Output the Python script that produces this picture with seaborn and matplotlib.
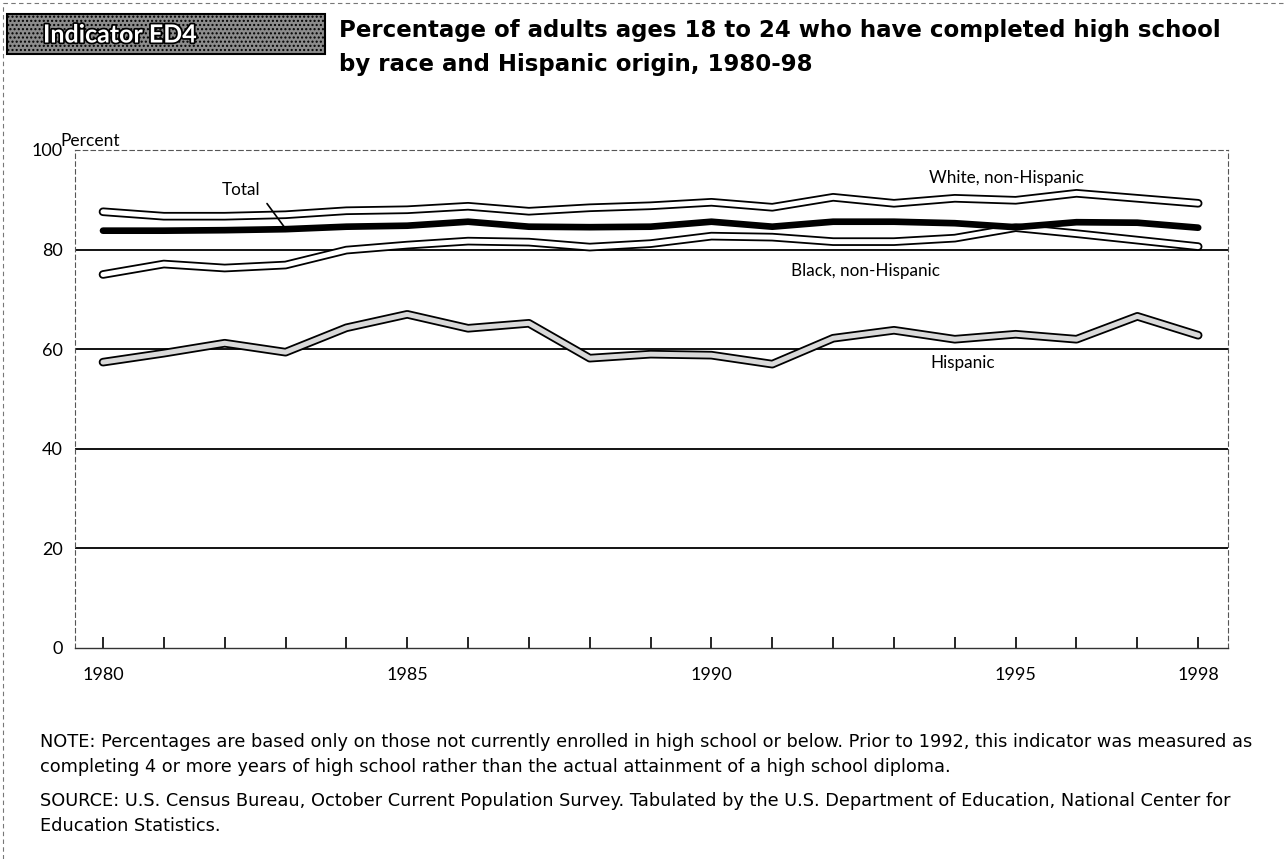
import matplotlib
matplotlib.use("Agg")
import matplotlib.pyplot as plt
import matplotlib.patheffects as pe
from matplotlib.lines import Line2D
from matplotlib.patches import Rectangle
import seaborn as sns
import pandas as pd

years = list(range(1980, 1999))
total = [83.8, 83.8, 83.9, 84.1, 84.6, 84.8, 85.6, 84.6, 84.5, 84.6,
         85.6, 84.6, 85.6, 85.6, 85.3, 84.5, 85.5, 85.4, 84.4]
white = [87.6, 86.7, 86.7, 87.0, 87.8, 88.0, 88.7, 87.7, 88.4, 88.8,
         89.5, 88.5, 90.5, 89.3, 90.3, 89.9, 91.3, 90.3, 89.3]
black = [75.0, 77.1, 76.3, 76.9, 79.9, 80.9, 81.7, 81.5, 80.5, 81.2,
         82.7, 82.5, 81.6, 81.6, 82.3, 84.4, 83.2, 81.9, 80.6]
hispanic = [57.4, 59.2, 61.2, 59.4, 64.3, 67.0, 64.2, 65.2, 58.2, 59.0,
            58.8, 57.0, 62.2, 63.8, 62.0, 63.0, 62.0, 66.6, 62.8]
xtick_labels = ["1980", "1985", "1990", "1995", "1998"]
ytick_values = [0, 20, 40, 60, 80, 100]

df = pd.DataFrame({"year": years * 4,
                   "value": white + black + hispanic + total,
                   "group": (["White, non-Hispanic"] * 19 + ["Black, non-Hispanic"] * 19
                             + ["Hispanic"] * 19 + ["Total"] * 19)})

sns.set_theme(style="white")
plt.rcParams["font.family"] = ["Lato", "DejaVu Sans"]
plt.rcParams["text.color"] = "black"
plt.rcParams["xtick.color"] = "black"
plt.rcParams["ytick.color"] = "black"

fig = plt.figure(figsize=(12.85, 8.59), dpi=100)
ax = fig.add_axes([75 / 1285, 1 - 648 / 859, 1153 / 1285, 498 / 859])

# grid lines
for g in [20, 40, 60, 80]:
    ax.axhline(g, color="black", lw=1.3, zorder=1)

outline = [pe.Stroke(linewidth=6.2, foreground="black", capstyle="round", joinstyle="round"),
           pe.Normal()]
for name, inner in [("White, non-Hispanic", "white"), ("Black, non-Hispanic", "white"),
                    ("Hispanic", "#d9d9d9")]:
    sns.lineplot(data=df[df["group"] == name], x="year", y="value", ax=ax, color=inner,
                 lw=3.6, solid_capstyle="round", solid_joinstyle="round",
                 path_effects=outline, zorder=3, legend=False)
sns.lineplot(data=df[df["group"] == "Total"], x="year", y="value", ax=ax, color="black",
             lw=4.8, solid_capstyle="round", zorder=4, legend=False)

ax.set_xlim(1979.54, 1998.49)
ax.set_ylim(0, 100)
ax.set_xticks(years)
ax.set_xticklabels([str(y) if str(y) in xtick_labels else "" for y in years])
ax.set_yticks(ytick_values)
ax.set_yticklabels([str(v) for v in ytick_values])
ax.tick_params(axis="x", bottom=True, direction="in", length=8, width=1.2, color="black",
               pad=14, labelsize=13, labelcolor="black")
ax.tick_params(axis="y", left=False, length=0, pad=9, labelsize=13, labelcolor="black")
ax.set_xlabel("")
ax.set_ylabel("")
for s in ["top", "left", "right"]:
    ax.spines[s].set_linestyle((0, (4, 3)))
    ax.spines[s].set_color("#555555")
    ax.spines[s].set_linewidth(0.8)
ax.spines["bottom"].set_color("#333333")
ax.spines["bottom"].set_linewidth(1.0)

# line labels
ax.text(1994.85, 94.4, "White, non-Hispanic", fontsize=12.3, ha="center", va="center")
ax.text(1991.3, 75.8, "Black, non-Hispanic", fontsize=12.3, ha="left", va="center")
ax.text(1993.6, 57.2, "Hispanic", fontsize=12.3, ha="left", va="center")
ax.annotate("Total", xy=(1983.0, 84.2), xytext=(1982.27, 92.0), fontsize=12.3,
            ha="center", va="center",
            arrowprops=dict(arrowstyle="-", color="black", lw=1.2, shrinkA=4, shrinkB=0,
                            relpos=(1.0, 0.2)))

fig.text(60 / 1285, 1 - 141 / 859, "Percent", fontsize=12.5, ha="left", va="center")

# indicator box
fig.add_artist(Rectangle((7 / 1285, 1 - 54 / 859), 318 / 1285, 40 / 859,
                         transform=fig.transFigure, facecolor="#8c8c8c",
                         edgecolor="black", lw=1.5, hatch="....", zorder=0))
t = fig.text(43 / 1285, 1 - 35 / 859, "Indicator ED4", fontsize=18, fontweight="bold",
             color="white", ha="left", va="center")
t.set_path_effects([pe.Stroke(linewidth=2.5, foreground="black"), pe.Normal()])

title_font = ["DejaVu Sans"]
fig.text(339 / 1285, 1 - 30 / 859,
         "Percentage of adults ages 18 to 24 who have completed high school",
         fontsize=16.5, fontweight="bold", ha="left", va="center", family=title_font)
fig.text(339 / 1285, 1 - 64 / 859, "by race and Hispanic origin, 1980-98",
         fontsize=16.5, fontweight="bold", ha="left", va="center", family=title_font)

notes = [
    (742, "NOTE: Percentages are based only on those not currently enrolled in high school or below. Prior to 1992, this indicator was measured as"),
    (767, "completing 4 or more years of high school rather than the actual attainment of a high school diploma."),
    (801, "SOURCE: U.S. Census Bureau, October Current Population Survey. Tabulated by the U.S. Department of Education, National Center for"),
    (826, "Education Statistics."),
]
for yy, txt in notes:
    fig.text(40 / 1285, 1 - yy / 859, txt, fontsize=12.8, ha="left", va="center",
             family=["DejaVu Sans"])

# page border
fig.add_artist(Line2D([0.002, 1], [0.997, 0.997], transform=fig.transFigure,
                      color="#777777", lw=0.8, linestyle=(0, (4, 3))))
fig.add_artist(Line2D([0.002, 0.002], [0, 0.997], transform=fig.transFigure,
                      color="#777777", lw=0.8, linestyle=(0, (4, 3))))

fig.savefig("out.png", dpi=100)
